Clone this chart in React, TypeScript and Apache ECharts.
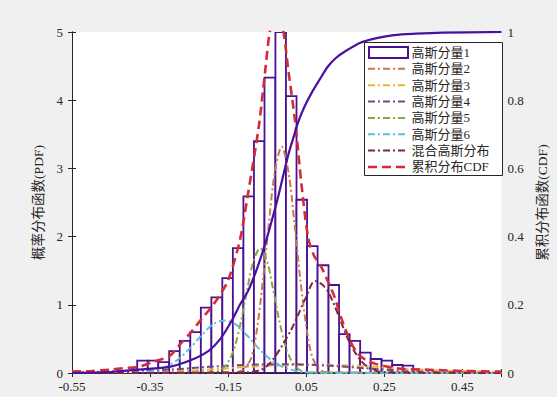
import React, { useEffect, useRef } from "react";
import * as echarts from "echarts";

// x tick labels shown on the bottom axis
const xTickLabels = ["-0.55", "-0.35", "-0.15", "0.05", "0.25", "0.45"];
const xMin = -0.55;
const xMax = 0.55;

// histogram bin edges and heights (PDF-normalised)
const binEdges = [
  -0.383, -0.356, -0.329, -0.301, -0.274, -0.247, -0.22, -0.193, -0.165, -0.138,
  -0.111, -0.084, -0.057, -0.029, -0.002, 0.025, 0.052, 0.079, 0.107, 0.134,
  0.161, 0.188, 0.215, 0.243, 0.27, 0.297, 0.324,
];
const binHeights = [
  0.18, 0.18, 0.16, 0.32, 0.47, 0.6, 0.96, 1.11, 1.39, 1.83,
  2.59, 3.4, 4.33, 5.0, 4.06, 2.54, 1.86, 1.58, 1.29, 0.57,
  0.47, 0.3, 0.205, 0.18, 0.117, 0.107,
];

// component curves [x, pdf]
const comp2 = [
  [-0.55, 0], [-0.131, 0.01], [-0.111, 0.05], [-0.091, 0.22], [-0.076, 0.65], [-0.061, 1.36],
  [-0.046, 2.18], [-0.031, 2.93], [-0.013, 3.32], [0.005, 2.93], [0.02, 2.18], [0.035, 1.36],
  [0.05, 0.68], [0.065, 0.24], [0.085, 0.05], [0.105, 0.01], [0.55, 0],
];
const comp3 = [
  [-0.55, 0.0], [-0.4, 0.008], [-0.3, 0.02], [-0.2, 0.05], [-0.1, 0.09], [0.0, 0.115],
  [0.1, 0.12], [0.2, 0.1], [0.3, 0.06], [0.4, 0.035], [0.55, 0.015],
];
const comp4 = [
  [-0.55, 0.01], [-0.4, 0.03], [-0.3, 0.05], [-0.2, 0.09], [-0.1, 0.12], [0.0, 0.13],
  [0.1, 0.11], [0.2, 0.07], [0.3, 0.03], [0.4, 0.01], [0.55, 0.0],
];
const comp5 = [
  [-0.55, 0], [-0.186, 0.01], [-0.166, 0.055], [-0.146, 0.2], [-0.131, 0.43], [-0.116, 0.79],
  [-0.101, 1.23], [-0.086, 1.63], [-0.068, 1.83], [-0.05, 1.63], [-0.035, 1.23], [-0.02, 0.79],
  [-0.005, 0.43], [0.01, 0.2], [0.03, 0.055], [0.05, 0.01], [0.55, 0],
];
const comp6 = [
  [-0.55, 0], [-0.45, 0.0], [-0.4, 0.003], [-0.35, 0.024], [-0.31, 0.09], [-0.28, 0.19],
  [-0.25, 0.35], [-0.22, 0.54], [-0.19, 0.71], [-0.16, 0.77], [-0.13, 0.71], [-0.1, 0.54],
  [-0.07, 0.35], [-0.04, 0.19], [-0.01, 0.09], [0.03, 0.024], [0.08, 0.003], [0.15, 0], [0.55, 0],
];
const mixMaroon = [
  [-0.55, 0], [-0.1, 0.01], [-0.07, 0.04], [-0.055, 0.08], [-0.035, 0.2], [-0.013, 0.39],
  [0.01, 0.62], [0.029, 0.85], [0.05, 1.12], [0.072, 1.35], [0.09, 1.3], [0.105, 1.2],
  [0.12, 1.02], [0.139, 0.75], [0.155, 0.52], [0.173, 0.32], [0.19, 0.18], [0.207, 0.09],
  [0.23, 0.03], [0.26, 0.01], [0.55, 0],
];
const mixRed = [
  [-0.55, 0.02], [-0.5, 0.03], [-0.45, 0.05], [-0.42, 0.07], [-0.38, 0.09], [-0.34, 0.17],
  [-0.3, 0.25], [-0.27, 0.44], [-0.245, 0.6], [-0.22, 0.78], [-0.195, 0.95], [-0.174, 1.12],
  [-0.15, 1.36], [-0.12, 1.95], [-0.1, 2.6], [-0.072, 3.6], [-0.055, 4.44], [-0.045, 4.95],
  [-0.035, 5.2], [-0.026, 5.3], [-0.017, 5.2], [-0.007, 4.95], [0.004, 4.44], [0.021, 3.71],
  [0.038, 2.75], [0.055, 1.98], [0.07, 1.72], [0.088, 1.56], [0.105, 1.35], [0.122, 1.12],
  [0.14, 0.8], [0.16, 0.5], [0.18, 0.3], [0.2, 0.2], [0.23, 0.13], [0.26, 0.09], [0.3, 0.06],
  [0.35, 0.05], [0.4, 0.04], [0.45, 0.03], [0.5, 0.025], [0.55, 0.02],
];
// empirical CDF [x, cdf]
const cdfCurve = [
  [-0.55, 0.0], [-0.45, 0.003], [-0.38, 0.01], [-0.3, 0.018], [-0.245, 0.038], [-0.2, 0.065],
  [-0.17, 0.1], [-0.14, 0.155], [-0.12, 0.2], [-0.098, 0.243], [-0.075, 0.31], [-0.055, 0.38],
  [-0.04, 0.44], [-0.022, 0.517], [0.004, 0.64], [0.021, 0.705], [0.029, 0.735], [0.045, 0.78],
  [0.063, 0.82], [0.085, 0.862], [0.105, 0.898], [0.125, 0.923], [0.148, 0.942], [0.19, 0.969],
  [0.23, 0.982], [0.275, 0.991], [0.33, 0.995], [0.4, 0.998], [0.55, 1.0],
];

const legendNames = ["高斯分量1", "高斯分量2", "高斯分量3", "高斯分量4", "高斯分量5", "高斯分量6", "混合高斯分布", "累积分布CDF"];

const HIST = "#4a1190";
const AX = "#262626";
const FONT = "'Liberation Serif', 'Noto Sans CJK SC', serif";
const DASH_DOT = [7, 3, 2, 3];
const RED_DASH = [9, 5];

const lineDefs = [
  { name: legendNames[1], pts: comp2, color: "#c9784a", dash: DASH_DOT, width: 2 },
  { name: legendNames[2], pts: comp3, color: "#e6b53a", dash: DASH_DOT, width: 2 },
  { name: legendNames[3], pts: comp4, color: "#74468a", dash: DASH_DOT, width: 2 },
  { name: legendNames[4], pts: comp5, color: "#86a843", dash: DASH_DOT, width: 2 },
  { name: legendNames[5], pts: comp6, color: "#5bbfe2", dash: DASH_DOT, width: 2 },
  { name: legendNames[6], pts: mixMaroon, color: "#7c2642", dash: DASH_DOT, width: 2 },
  { name: legendNames[7], pts: mixRed, color: "#d42a3a", dash: RED_DASH, width: 2.6 },
];

export default function App() {
  const ref = useRef<HTMLDivElement>(null);
  useEffect(() => {
    document.body.style.margin = "0";
    const chart = echarts.init(ref.current!, null, { renderer: "svg" });
    const off = -xMin;
    const shift = (pts: number[][]) => pts.map(([x, y]) => [x + off, y]);
    const mkLine = (name: string, pts: number[][], color: string, type: any, width = 2, yIdx = 0) => ({
      type: "line",
      name,
      xAxisIndex: 0,
      yAxisIndex: yIdx,
      data: shift(pts),
      smooth: 0.3,
      symbol: "none",
      clip: true,
      lineStyle: { color, width, type },
      itemStyle: { color },
      z: 3,
    });
    const axisCommon = {
      axisLine: { show: true, lineStyle: { color: AX, width: 1 } },
      axisTick: { show: true, inside: true, length: 4, lineStyle: { color: AX } },
      splitLine: { show: false },
      axisLabel: { color: AX, fontSize: 13, fontFamily: FONT },
    };

    // legend box (drawn as graphic so line icons carry the dash pattern)
    const lgX = 364.5, lgY = 42.5, lgW = 138, lgH = 133, rowY0 = 52.5, rowStep = 16.35;
    const legendEls: any[] = [
      { type: "rect", shape: { x: lgX, y: lgY, width: lgW, height: lgH }, style: { fill: "#fff", stroke: AX, lineWidth: 1 }, z: 10 },
    ];
    legendNames.forEach((n, i) => {
      const cy = rowY0 + rowStep * i;
      if (i === 0) {
        legendEls.push({ type: "rect", shape: { x: 369, y: cy - 5.5, width: 39, height: 11 }, style: { fill: "#fff", stroke: HIST, lineWidth: 2 }, z: 11 });
      } else {
        const d = lineDefs[i - 1];
        legendEls.push({ type: "line", shape: { x1: 368, y1: cy, x2: 408, y2: cy }, style: { stroke: d.color, lineWidth: d.width, lineDash: d.dash }, z: 11 });
      }
      legendEls.push({ type: "text", x: 411.5, y: cy, style: { text: n, fill: AX, fontSize: 13, fontFamily: FONT, textVerticalAlign: "middle", verticalAlign: "middle" }, z: 11 });
    });

    chart.setOption({
      animation: false,
      backgroundColor: "#f0f0f0",
      grid: { left: 72, right: 51.5, top: 32, bottom: 24, show: true, backgroundColor: "#fff", borderWidth: 0 },
      graphic: legendEls,
      xAxis: [
        {
          type: "value",
          position: "bottom",
          min: 0,
          max: xMax - xMin,
          interval: 0.2,
          ...axisCommon,
          axisLabel: {
            ...axisCommon.axisLabel,
            margin: 7,
            formatter: (v: number) => {
              const idx = Math.round(v / 0.2);
              if (Math.abs(idx * 0.2 - v) > 1e-6) return "";
              return xTickLabels[idx] ?? "";
            },
          },
        },
        {
          type: "value",
          position: "top",
          min: 0,
          max: xMax - xMin,
          interval: 0.2,
          ...axisCommon,
          axisLabel: { show: false },
        },
      ],
      yAxis: [
        {
          type: "value",
          position: "left",
          min: 0,
          max: 5,
          interval: 1,
          ...axisCommon,
          axisLabel: { ...axisCommon.axisLabel, margin: 9 },
          name: "概率分布函数(PDF)",
          nameLocation: "middle",
          nameRotate: 90,
          nameGap: 26,
          nameTextStyle: { color: AX, fontSize: 13.5, fontFamily: FONT },
        },
        {
          type: "value",
          position: "right",
          min: 0,
          max: 1,
          interval: 0.2,
          ...axisCommon,
          axisLabel: { ...axisCommon.axisLabel, margin: 6 },
          name: "累积分布函数(CDF)",
          nameLocation: "middle",
          nameRotate: 90,
          nameGap: 34,
          nameTextStyle: { color: AX, fontSize: 13.5, fontFamily: FONT },
        },
      ],
      series: [
        {
          type: "custom",
          name: legendNames[0],
          xAxisIndex: 0,
          yAxisIndex: 0,
          clip: true,
          z: 2,
          itemStyle: { color: "#fff", borderColor: HIST },
          encode: { x: [0, 1], y: 2 },
          data: binHeights.map((h, i) => [binEdges[i] + off, binEdges[i + 1] + off, h]),
          renderItem: (params: any, api: any) => {
            const p0 = api.coord([api.value(0), api.value(2)]);
            const p1 = api.coord([api.value(1), 0]);
            return {
              type: "rect",
              shape: { x: p0[0], y: p0[1], width: p1[0] - p0[0], height: p1[1] - p0[1] },
              style: { fill: "#fff", stroke: HIST, lineWidth: 1.8 },
            };
          },
        },
        ...lineDefs.map((d) => mkLine(d.name, d.pts, d.color, d.dash, d.width)),
        mkLine("CDF曲线", cdfCurve, "#4a10a0", "solid", 2.2, 1),
      ],
    });
    return () => chart.dispose();
  }, []);
  return (
    <div
      ref={ref}
      style={{ position: "fixed", left: 0, top: 0, width: 557, height: 397, background: "#f0f0f0" }}
    />
  );
}
